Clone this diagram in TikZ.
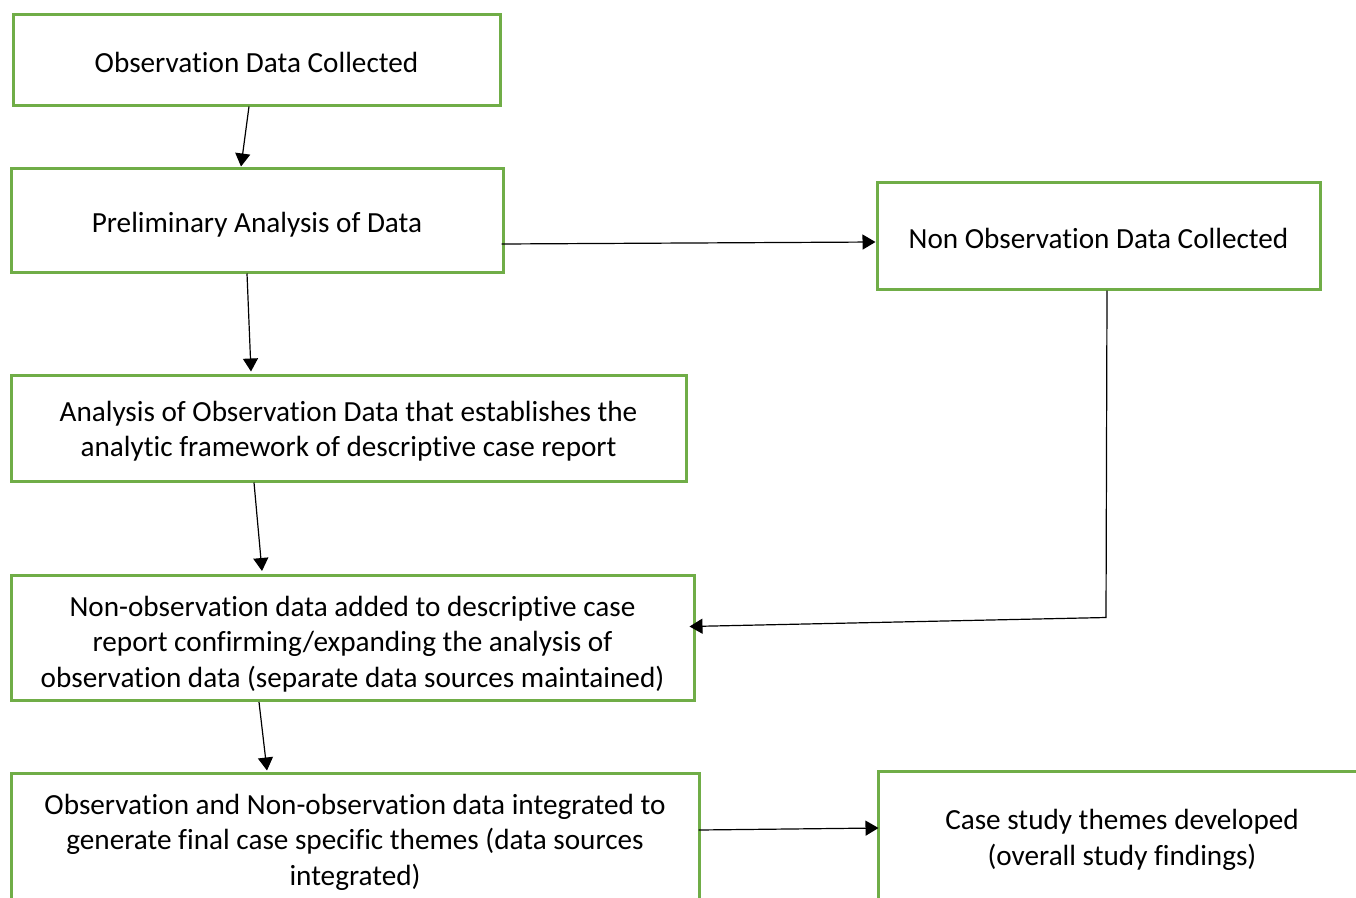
\documentclass[tikz,border=0pt]{standalone}
\usepackage{fontspec}
\setmainfont{Carlito}[Ligatures=NoCommon]
\usetikzlibrary{arrows.meta,calc}
\definecolor{boxgreen}{HTML}{70AD47}
\begin{document}
\begin{tikzpicture}[x=1pt,y=-1pt,
  stagebox/.style={draw=boxgreen,line width=3pt,rectangle,inner sep=0pt},
  stagetext/.style={inner sep=0pt,align=center,font=\fontsize{29.2}{35.5}\selectfont},
  flow/.style={draw=black,line width=1.2pt,-{Triangle[length=13pt,width=15pt]}}]
\useasboundingbox (0,0) rectangle (1356,897);
\fill[white] (0,0) rectangle (1356,897);
\begin{scope}
\clip (0,0) rectangle (1356,897);

% process stages: frames
\node[stagebox,minimum width=487pt,minimum height=91pt] (obs) at (256.5,59.5) {};
\node[stagebox,minimum width=492pt,minimum height=104pt] (prelim) at (257,220) {};
\node[stagebox,minimum width=443pt,minimum height=107pt] (nonobs) at (1098.5,235.5) {};
\node[stagebox,minimum width=675pt,minimum height=106pt] (frame) at (348.5,428) {};
\node[stagebox,minimum width=683pt,minimum height=125pt] (added) at (352.5,638) {};
\node[stagebox,minimum width=688pt,minimum height=134pt] (integ) at (355,840) {};
\node[stagebox,minimum width=490pt,minimum height=132pt] (themes) at (1123,837) {};

% process stages: captions
\node[stagetext] (obs-t) at (256.5,62) {Observation Data Collected};
\node[stagetext] (prelim-t) at (257,225) {Preliminary Analysis of Data};
\node[stagetext] (nonobs-t) at (1098.5,238) {Non Observation Data Collected};
\node[stagetext] (frame-t) at (348.5,431)
  {Analysis of Observation Data that establishes the\\analytic framework of descriptive case report};
\node[stagetext] (added-t) at (352.5,644)
  {Non-observation data added to descriptive case\\report confirming/expanding the analysis of\\observation data (separate data sources maintained)};
\node[stagetext] (integ-t) at (355,842)
  {Observation and Non-observation data integrated to\\generate final case specific themes (data sources\\integrated)};
\node[stagetext] (themes-t) at (1122,840)
  {Case study themes developed\\(overall study findings)};

% connectors
\draw[flow] ([xshift=-7.5pt]obs.south) -- ([xshift=-16pt]prelim.north);
\draw[flow] ([xshift=-10pt]prelim.south) -- ([xshift=-97.5pt,yshift=2pt]frame.north);
\draw[flow] ([xshift=-3pt,yshift=-24pt]prelim.east) -- ([yshift=-6.5pt]nonobs.west);
\draw[flow] ([xshift=-94.5pt]frame.south) -- ([xshift=-90.5pt,yshift=3pt]added.north);
\coordinate (turn) at ($(nonobs.south)+(7.5,327)$);
\draw[flow] ([xshift=8.5pt]nonobs.south) -- (turn) -- ([xshift=-6pt,yshift=11.5pt]added.east);
\draw[flow] ([xshift=-93.5pt]added.south) -- ([xshift=-88pt,yshift=1pt]integ.north);
\draw[flow] ([xshift=-2pt,yshift=10pt]integ.east) -- ([xshift=2pt,yshift=9pt]themes.west);
\end{scope}
\end{tikzpicture}
\end{document}
